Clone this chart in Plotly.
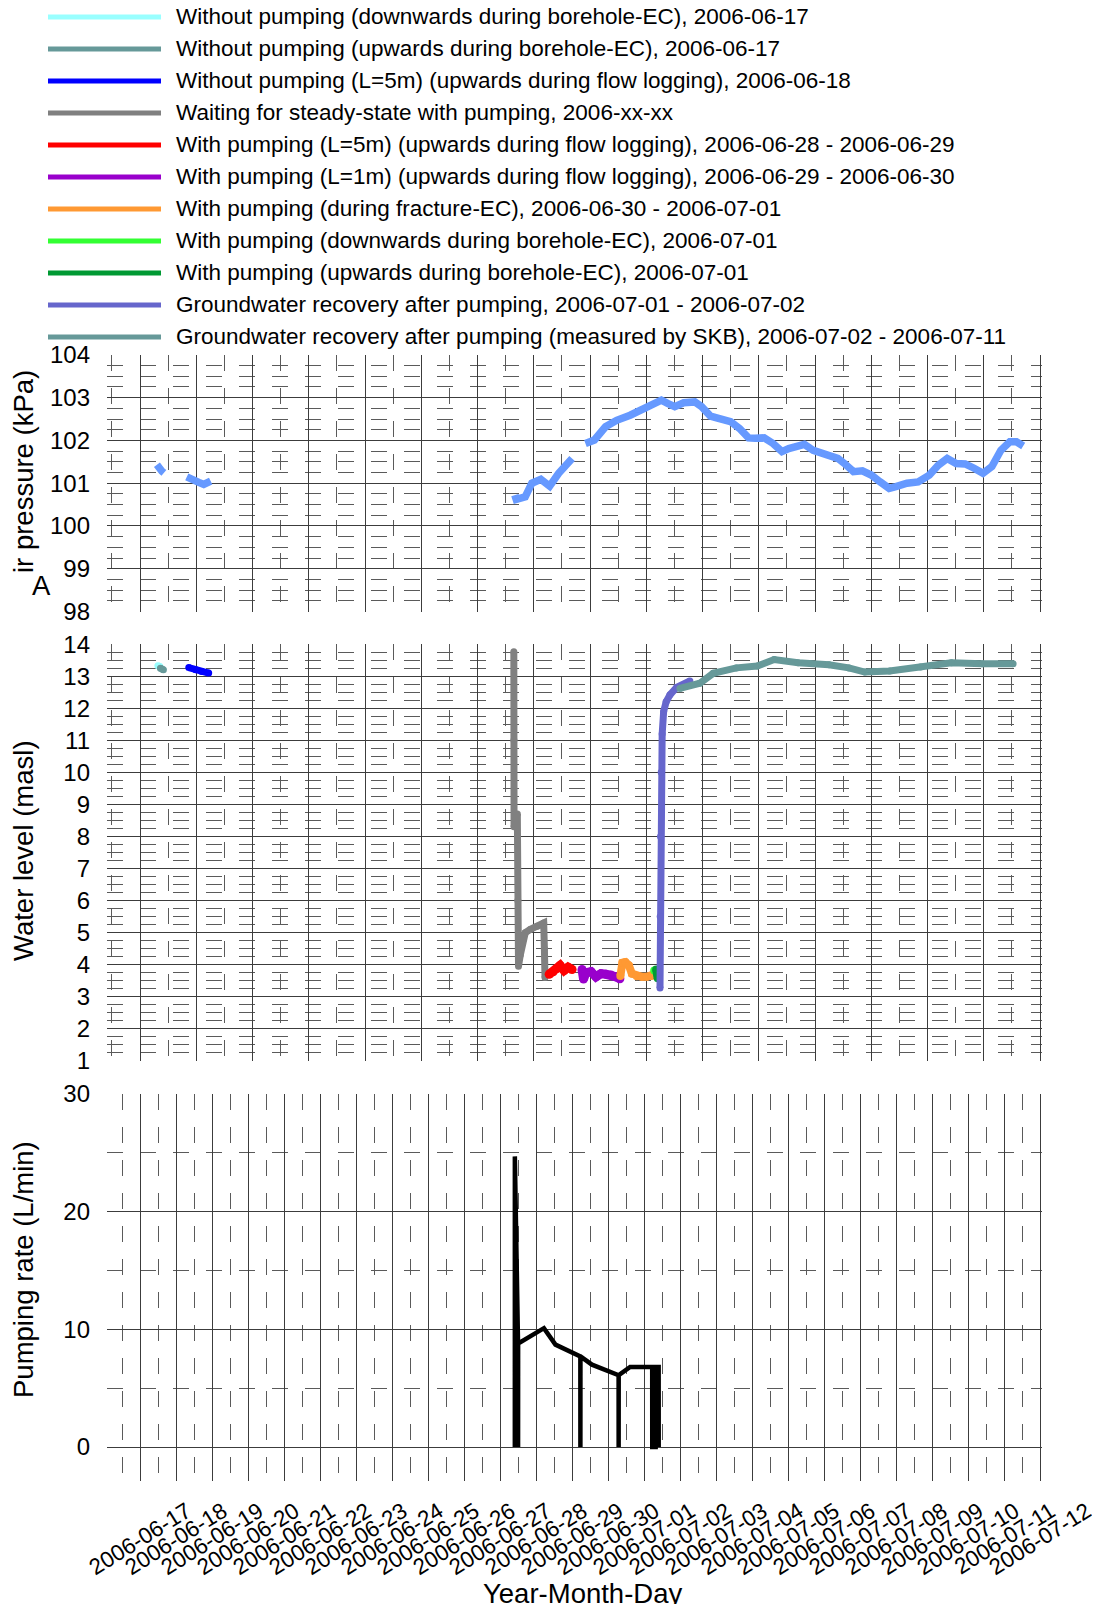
import plotly.graph_objects as go

FONT = "Arial, 'Liberation Sans', sans-serif"
# page has an 8px body margin, so the figure is 16px smaller than the window
W, H = 1084, 1596
OFF = 8

# ---------------- legend ----------------
legend_labels = [
    "Without pumping (downwards during borehole-EC), 2006-06-17",
    "Without pumping (upwards during borehole-EC), 2006-06-17",
    "Without pumping (L=5m) (upwards during flow logging), 2006-06-18",
    "Waiting for steady-state with pumping, 2006-xx-xx",
    "With pumping (L=5m) (upwards during flow logging), 2006-06-28 - 2006-06-29",
    "With pumping (L=1m) (upwards during flow logging), 2006-06-29 - 2006-06-30",
    "With pumping (during fracture-EC), 2006-06-30 - 2006-07-01",
    "With pumping (downwards during borehole-EC), 2006-07-01",
    "With pumping (upwards during borehole-EC), 2006-07-01",
    "Groundwater recovery after pumping, 2006-07-01 - 2006-07-02",
    "Groundwater recovery after pumping (measured by SKB), 2006-07-02 - 2006-07-11",
]
legend_colors = ["#99ffff", "#669999", "#0000ff", "#808080", "#ff0000", "#9900cc",
                 "#ff9933", "#33ff33", "#009933", "#6666cc", "#669999"]

# ---------------- x tick labels ----------------
date_ticks = ["2006-06-17", "2006-06-18", "2006-06-19", "2006-06-20", "2006-06-21",
              "2006-06-22", "2006-06-23", "2006-06-24", "2006-06-25", "2006-06-26",
              "2006-06-27", "2006-06-28", "2006-06-29", "2006-06-30", "2006-07-01",
              "2006-07-02", "2006-07-03", "2006-07-04", "2006-07-05", "2006-07-06",
              "2006-07-07", "2006-07-08", "2006-07-09", "2006-07-10", "2006-07-11",
              "2006-07-12"]

# ---------------- air pressure (kPa) ----------------
pressure_time = [
    "2006-06-17 11:17", "2006-06-17 12:36", "2006-06-17 14:36", "2006-06-17 15:56", None,
    "2006-06-18 07:12", "2006-06-18 11:50", "2006-06-18 15:10", "2006-06-18 18:29",
    "2006-06-18 21:09", "2006-06-18 23:07", None,
    "2006-06-27 09:53", "2006-06-27 10:49", "2006-06-27 16:48", "2006-06-27 21:14",
    "2006-06-28 03:13", "2006-06-28 09:07", "2006-06-28 15:06", "2006-06-28 19:32",
    "2006-06-29 00:03", None,
    "2006-06-29 08:57", "2006-06-29 14:56", "2006-06-29 22:21", "2006-06-30 05:47",
    "2006-06-30 14:45", "2006-06-30 22:11", "2006-07-01 02:38", "2006-07-01 07:09",
    "2006-07-01 11:35", "2006-07-01 16:02", "2006-07-01 20:30", "2006-07-02 02:27",
    "2006-07-02 09:53", "2006-07-02 14:24", "2006-07-02 20:18", "2006-07-03 02:17",
    "2006-07-03 09:43", "2006-07-03 15:42", "2006-07-03 21:40", "2006-07-04 02:07",
    "2006-07-04 08:05", "2006-07-04 13:59", "2006-07-04 19:58", "2006-07-05 00:29",
    "2006-07-05 04:55", "2006-07-05 10:54", "2006-07-05 16:48", "2006-07-05 22:47",
    "2006-07-06 03:17", "2006-07-06 09:12", "2006-07-06 13:39", "2006-07-06 19:38",
    "2006-07-07 01:35", "2006-07-07 07:30", "2006-07-07 13:29", "2006-07-07 19:26",
    "2006-07-07 23:54", "2006-07-08 07:19", "2006-07-08 14:46", "2006-07-08 22:12",
    "2006-07-09 04:09", "2006-07-09 10:08", "2006-07-09 16:06", "2006-07-09 22:05",
    "2006-07-10 04:03", "2006-07-10 09:58", "2006-07-10 15:56", "2006-07-10 21:55",
    "2006-07-11 03:53", "2006-07-11 08:17", "2006-07-11 12:48",
]
pressure_kpa = [
    101.43, 101.35, 101.28, 101.24, None,
    101.15, 101.10, 101.02, 100.97, 101.02, 101.05, None,
    100.72, 100.62, 100.68, 101.00, 101.09, 100.93, 101.23, 101.42, 101.58, None,
    101.93, 102.01, 102.32, 102.47, 102.59, 102.71, 102.79, 102.90, 102.94, 102.86,
    102.79, 102.88, 102.90, 102.79, 102.57, 102.51, 102.44, 102.28, 102.06, 102.05,
    102.06, 101.93, 101.74, 101.81, 101.85, 101.91, 101.77, 101.70, 101.68, 101.58,
    101.46, 101.27, 101.29, 101.19, 101.03, 100.88, 100.92, 101.00, 101.03, 101.19,
    101.42, 101.58, 101.46, 101.45, 101.35, 101.23, 101.39, 101.77, 101.97, 101.97,
    101.87,
]

# ---------------- water level (masl) ----------------
down_ec_time = ["2006-06-17 11:57", "2006-06-17 13:16"]
down_ec_level = [13.33, 13.30]
up_ec_time = ["2006-06-17 13:36", "2006-06-17 15:36"]
up_ec_level = [13.25, 13.20]
flow5_nopump_time = ["2006-06-18 08:31", "2006-06-18 13:10", "2006-06-18 17:09", "2006-06-18 21:48"]
flow5_nopump_level = [13.27, 13.20, 13.15, 13.10]
waiting_time = ["2006-06-27 09:13", "2006-06-27 09:17", "2006-06-27 09:22", "2006-06-27 11:33",
                "2006-06-27 11:53", "2006-06-27 12:20", "2006-06-27 13:32", "2006-06-27 16:51",
                "2006-06-27 20:11", "2006-06-28 00:49", "2006-06-28 05:08", "2006-06-28 05:36",
                "2006-06-28 06:00"]
waiting_level = [13.76, 11.0, 8.3, 8.7, 6.0, 3.95, 4.3, 5.0, 5.1, 5.2, 5.3, 4.5, 3.6]
flow5_time = ["2006-06-28 08:47", "2006-06-28 11:27", "2006-06-28 14:05", "2006-06-28 16:05",
              "2006-06-28 18:45", "2006-06-28 21:24", "2006-06-29 00:03"]
flow5_level = [3.70, 3.78, 3.88, 3.98, 3.82, 3.92, 3.85]
flow1_time = ["2006-06-29 06:42", "2006-06-29 07:41", "2006-06-29 09:20", "2006-06-29 12:40",
              "2006-06-29 15:59", "2006-06-29 19:18", "2006-06-29 22:37", "2006-06-30 01:57",
              "2006-06-30 05:15", "2006-06-30 07:55"]
flow1_level = [3.85, 3.55, 3.75, 3.78, 3.62, 3.72, 3.70, 3.68, 3.62, 3.56]
fracture_time = ["2006-06-30 08:15", "2006-06-30 09:35", "2006-06-30 11:34", "2006-06-30 13:54",
                 "2006-06-30 15:53", "2006-06-30 19:12", "2006-06-30 22:31", "2006-07-01 01:51",
                 "2006-07-01 05:10", "2006-07-01 07:09"]
fracture_level = [3.65, 4.06, 4.08, 3.98, 3.72, 3.64, 3.62, 3.62, 3.65, 3.72]
down_ec_p_time = ["2006-07-01 06:49", "2006-07-01 07:41"]
down_ec_p_level = [3.82, 3.80]
up_ec_p_time = ["2006-07-01 08:08", "2006-07-01 08:48", "2006-07-01 09:08", "2006-07-01 09:29"]
up_ec_p_level = [3.85, 3.70, 3.58, 3.72]
recovery_time = ["2006-07-01 10:40", "2006-07-01 10:48", "2006-07-01 11:00", "2006-07-01 11:28",
                 "2006-07-01 12:07", "2006-07-01 13:06", "2006-07-01 14:46", "2006-07-01 17:18",
                 "2006-07-01 21:45", "2006-07-02 06:35"]
recovery_level = [3.27, 5.5, 8.0, 10.0, 11.2, 11.9, 12.2, 12.42, 12.65, 12.85]
skb_time = ["2006-07-01 23:56", "2006-07-02 13:12", "2006-07-02 22:06", "2006-07-03 13:34",
            "2006-07-04 03:30", "2006-07-04 14:47", "2006-07-05 06:43", "2006-07-06 03:17",
            "2006-07-06 16:34", "2006-07-07 03:11", "2006-07-07 19:47", "2006-07-08 16:21",
            "2006-07-09 12:56", "2006-07-10 09:30", "2006-07-11 06:04"]
skb_level = [12.62, 12.78, 13.09, 13.26, 13.32, 13.52, 13.42, 13.36, 13.26, 13.13, 13.16,
             13.29, 13.42, 13.39, 13.39]

# ---------------- pumping rate (L/min) ----------------
pump_time = ["2006-06-27 09:53", "2006-06-27 09:54", "2006-06-27 12:01", "2006-06-27 12:03",
             "2006-06-27 12:05", "2006-06-28 05:17", "2006-06-28 12:58", "2006-06-29 05:34",
             "2006-06-29 05:36", "2006-06-29 05:38", "2006-06-29 13:19", "2006-06-30 07:04",
             "2006-06-30 07:06", "2006-06-30 07:08", "2006-06-30 14:45", "2006-07-01 05:28",
             "2006-07-01 05:30", "2006-07-01 07:46", "2006-07-01 07:48", "2006-07-01 09:46",
             "2006-07-01 09:48"]
pump_rate = [0, 24.7, 8.8, 0, 8.8, 10.1, 8.7, 7.7, 0, 7.7, 7.0, 6.1, 0, 6.1, 6.8, 6.8,
             0, 0, 6.8, 6.8, 0]


# ---------------- geometry helpers (window pixels -> paper) ----------------
def px(p):
    return (p - OFF) / W


def py(p):
    return 1 - (p - OFF) / H


X0, X1 = 107, 1041.5

fig = go.Figure()

fig.add_trace(go.Scatter(x=pressure_time, y=pressure_kpa, mode="lines",
                         line=dict(color="#6699ff", width=7.5), connectgaps=False,
                         xaxis="x", yaxis="y", showlegend=False, name="Air pressure"))

water_series = [
    (down_ec_time, down_ec_level, 0, 7),
    (up_ec_time, up_ec_level, 1, 7),
    (flow5_nopump_time, flow5_nopump_level, 2, 7),
    (waiting_time, waiting_level, 3, 7),
    (flow5_time, flow5_level, 4, 9),
    (flow1_time, flow1_level, 5, 9),
    (fracture_time, fracture_level, 6, 8),
    (down_ec_p_time, down_ec_p_level, 7, 8),
    (up_ec_p_time, up_ec_p_level, 8, 8),
    (recovery_time, recovery_level, 9, 7),
    (skb_time, skb_level, 10, 7),
]
for t, v, i, lw in water_series:
    fig.add_trace(go.Scatter(x=t, y=v, mode="lines+markers",
                             line=dict(color=legend_colors[i], width=lw),
                             marker=dict(color=legend_colors[i], size=lw),
                             xaxis="x2", yaxis="y2", showlegend=False,
                             name=legend_labels[i]))

fig.add_trace(go.Scatter(x=pump_time, y=pump_rate, mode="lines",
                         line=dict(color="black", width=4.5),
                         xaxis="x3", yaxis="y3", showlegend=False, name="Pumping rate"))

MAJ = "#3c3c3c"
MIN = "#5a5a5a"
DASH = "16px,17px"
xrange_ = ["2006-06-16 02:00", "2006-07-12 01:00"]
tick_font = dict(family=FONT, size=24, color="black")
date_font = dict(family=FONT, size=22.5, color="black")
XDOM = [px(X0), px(X1)]

top_x = dict(type="date", range=xrange_, domain=XDOM, tickmode="linear",
             tick0="2006-06-17", dtick=135000000, showticklabels=False, ticks="",
             showgrid=True, gridcolor=MAJ, gridwidth=1, zeroline=False, showline=False,
             automargin=False,
             minor=dict(tickmode="linear", tick0="2006-06-17", dtick=67500000, showgrid=True,
                        gridcolor=MIN, griddash=DASH, gridwidth=1, ticks=""))

fig.update_layout(
    width=W, height=H, margin=dict(l=0, r=0, t=0, b=0),
    paper_bgcolor="white", plot_bgcolor="white", showlegend=False,
    font=dict(family=FONT, size=23, color="black"),
    xaxis=dict(top_x, anchor="y"),
    xaxis2=dict(top_x, anchor="y2"),
    xaxis3=dict(type="date", range=xrange_, domain=XDOM, anchor="y3",
                tickmode="array", tickvals=date_ticks, ticktext=date_ticks,
                tickangle=-32, ticklabelshift=47, ticklabelstandoff=12,
                ticklabeloverflow="allow",
                tickfont=date_font, ticks="", showgrid=True, gridcolor=MAJ, gridwidth=1,
                zeroline=False, showline=False, automargin=False,
                minor=dict(tickmode="linear", tick0="2006-06-17", dtick=43200000,
                           showgrid=True, gridcolor=MIN, griddash=DASH, gridwidth=1, ticks="")),
    yaxis=dict(domain=[py(611.7), py(354.7)], range=[97.995, 104.005], anchor="x",
               tickmode="linear", tick0=98, dtick=1, tickfont=tick_font, ticks="",
               ticklabelstandoff=16, showgrid=True, gridcolor=MAJ, zeroline=False,
               showline=False, automargin=False,
               minor=dict(tickmode="linear", tick0=98, dtick=0.25, showgrid=True,
                          gridcolor=MIN, griddash=DASH, ticks="")),
    yaxis2=dict(domain=[py(1061), py(644)], range=[0.995, 14.005], anchor="x2",
                tickmode="linear", tick0=1, dtick=1, tickfont=tick_font, ticks="",
                ticklabelstandoff=16, showgrid=True, gridcolor=MAJ, zeroline=False,
                showline=False, automargin=False,
                minor=dict(tickmode="linear", tick0=1, dtick=0.25, showgrid=True,
                           gridcolor=MIN, griddash=DASH, ticks="")),
    yaxis3=dict(domain=[py(1481), py(1094)], range=[-2.89, 30.005], anchor="x3",
                tickmode="linear", tick0=0, dtick=10, tickfont=tick_font, ticks="",
                ticklabelstandoff=16, showgrid=True, gridcolor=MAJ, zeroline=False,
                showline=False, automargin=False,
                minor=dict(tickmode="linear", tick0=0, dtick=5, showgrid=True,
                           gridcolor=MIN, griddash=DASH, ticks="")),
)

# manual legend (long line samples as in the original)
for i, (lab, col) in enumerate(zip(legend_labels, legend_colors)):
    yc = py(17 + 32.0 * i)
    fig.add_shape(type="line", xref="paper", yref="paper", x0=px(48), x1=px(161),
                  y0=yc, y1=yc, line=dict(color=col, width=5))
    fig.add_annotation(text=lab, xref="paper", yref="paper", x=px(175), y=yc,
                       xanchor="left", yanchor="middle", showarrow=False, borderpad=0,
                       font=dict(family=FONT, size=22.5, color="black"))

# axis titles
title_font = dict(family=FONT, size=27.5, color="black")
fig.add_annotation(text="ir pressure (kPa)", xref="paper", yref="paper", x=px(23), y=py(472),
                   textangle=-90, showarrow=False, xanchor="center", yanchor="middle",
                   font=title_font)
fig.add_annotation(text="A", xref="paper", yref="paper", x=px(41), y=py(585),
                   showarrow=False, xanchor="center", yanchor="middle", font=title_font)
fig.add_annotation(text="Water level (masl)", xref="paper", yref="paper", x=px(23), y=py(851),
                   textangle=-90, showarrow=False, xanchor="center", yanchor="middle",
                   font=title_font)
fig.add_annotation(text="Pumping rate (L/min)", xref="paper", yref="paper", x=px(23),
                   y=py(1270), textangle=-90, showarrow=False, xanchor="center",
                   yanchor="middle", font=title_font)
fig.add_annotation(text="Year-Month-Day", xref="paper", yref="paper", x=px(582), y=py(1593),
                   showarrow=False, xanchor="center", yanchor="middle", borderpad=0,
                   font=title_font)

fig.write_html("out.html")
